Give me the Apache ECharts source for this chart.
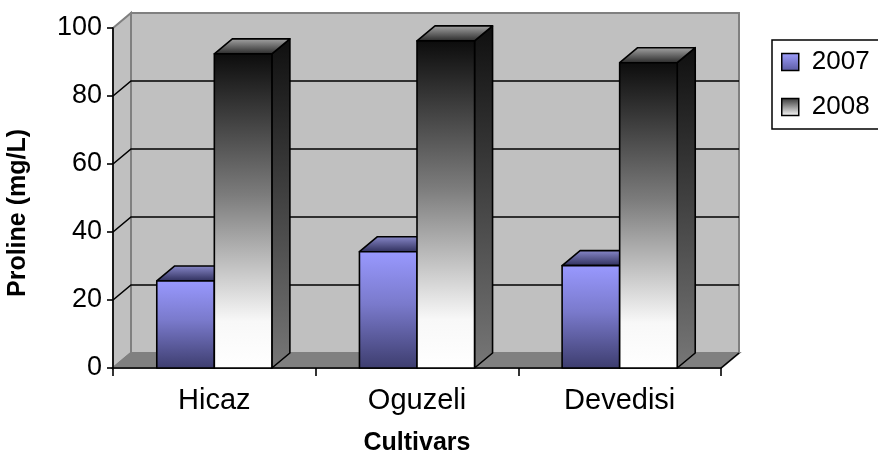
<!DOCTYPE html>
<html>
<head>
<meta charset="utf-8">
<script src="https://cdn.jsdelivr.net/npm/echarts@6/dist/echarts.min.js"></script>
<style>
  html, body { margin: 0; padding: 0; background: #fff; }
  #chart { width: 878px; height: 454px; }
</style>
</head>
<body>
<div id="chart"></div>
<script>
// Proline content of three cultivars in two seasons
const cultivars = ['Hicaz', 'Oguzeli', 'Devedisi'];
const proline2007 = [25.6, 34.2, 30.1];
const proline2008 = [92.4, 96.2, 89.8];
const yTicks = [0, 20, 40, 60, 80, 100];

// oblique depth of the 3D box (pixels)
const DX = 18, DY = -15;
const BAR_FRAC = 0.284;

function grad(stops) {
  return { type: 'linear', x: 0, y: 0, x2: 0, y2: 1,
    colorStops: stops.map(s => ({ offset: s[0], color: s[1] })) };
}

const styles = {
  '2007': {
    front: grad([[0, '#9999ff'], [0.45, '#7a7acc'], [1, '#3d3d6e']]),
    top: grad([[0, '#8a8acc'], [1, '#2c2c58']]),
    side: grad([[0, '#4a4a88'], [1, '#242448']]),
    legend: grad([[0, '#a0a0ff'], [1, '#5a5aa0']])
  },
  '2008': {
    front: grad([[0, '#0c0c0c'], [0.45, '#7c7c7c'], [0.85, '#f8f8f8'], [1, '#ffffff']]),
    top: grad([[0, '#a8a8a8'], [1, '#262626']]),
    side: grad([[0, '#0f0f0f'], [1, '#777777']]),
    legend: grad([[0, '#333333'], [1, '#ffffff']])
  }
};

const edge = { stroke: '#000', lineWidth: 1.6, lineJoin: 'round' };

function barRenderer(name, offsetSign) {
  const st = styles[name];
  return function (params, api) {
    const cat = api.value(0);
    const val = api.value(1);
    const top = api.coord([cat, val]);
    const base = api.coord([cat, 0]);
    const bw = api.size([1, 0])[0] * BAR_FRAC;
    const x0 = offsetSign < 0 ? top[0] - bw : top[0];
    const x1 = x0 + bw;
    const yT = top[1], yB = base[1];
    return {
      type: 'group',
      children: [
        { type: 'polygon', shape: { points: [[x1, yT], [x1 + DX, yT + DY], [x1 + DX, yB + DY], [x1, yB]] },
          style: Object.assign({ fill: st.side }, edge) },
        { type: 'polygon', shape: { points: [[x0, yT], [x0 + DX, yT + DY], [x1 + DX, yT + DY], [x1, yT]] },
          style: Object.assign({ fill: st.top }, edge) },
        { type: 'rect', shape: { x: x0, y: yT, width: bw, height: yB - yT },
          style: Object.assign({ fill: st.front }, edge) }
      ]
    };
  };
}

// walls, floor and gridlines of the 3D box
function frameRenderer(params, api) {
  const band = api.size([1, 0])[0];
  const xmin = api.coord([0, 0])[0] - band / 2;
  const xmax = api.coord([cultivars.length - 1, 0])[0] + band / 2;
  const y0 = api.coord([0, yTicks[0]])[1];
  const yTop = api.coord([0, yTicks[yTicks.length - 1]])[1];
  const children = [
    { type: 'rect', shape: { x: xmin + DX, y: yTop + DY, width: xmax - xmin, height: y0 - yTop },
      style: { fill: '#c0c0c0', stroke: '#808080', lineWidth: 2 } },
    { type: 'polygon', shape: { points: [[xmin, yTop], [xmin + DX, yTop + DY], [xmin + DX, y0 + DY], [xmin, y0]] },
      style: { fill: '#c0c0c0', stroke: '#808080', lineWidth: 2 } },
    { type: 'polygon', shape: { points: [[xmin, y0], [xmin + DX, y0 + DY], [xmax + DX, y0 + DY], [xmax, y0]] },
      style: { fill: '#808080', stroke: '#808080', lineWidth: 2 } },
    { type: 'polyline', shape: { points: [[xmax, y0], [xmax + DX, y0 + DY]] },
      style: { stroke: '#000', lineWidth: 1.6 } }
  ];
  yTicks.slice(1, -1).forEach(t => {
    const y = api.coord([0, t])[1];
    children.push({ type: 'polyline',
      shape: { points: [[xmin, y], [xmin + DX, y + DY], [xmax + DX, y + DY]] },
      style: { stroke: '#000', lineWidth: 1.6, fill: null } });
  });
  return { type: 'group', children: children };
}

const chart = echarts.init(document.getElementById('chart'), null, { renderer: 'canvas' });
const font = 'Liberation Sans, Arial, Helvetica, sans-serif';

chart.setOption({
  animation: false,
  backgroundColor: '#fff',
  textStyle: { fontFamily: font },
  grid: { left: 113, right: 157, top: 28, bottom: 86, containLabel: false, outerBoundsMode: 'none' },
  legend: {
    left: 772, top: 40,
    orient: 'vertical',
    padding: [9, 40, 9, 9],
    itemGap: 19,
    itemWidth: 17, itemHeight: 17,
    borderColor: '#000', borderWidth: 1.5,
    textStyle: { fontSize: 26, color: '#000', fontFamily: font, lineHeight: 26, padding: [0, 0, 0, 8] },
    data: [
      { name: '2007', icon: 'rect', itemStyle: { color: styles['2007'].legend, borderColor: '#000', borderWidth: 1.5 } },
      { name: '2008', icon: 'rect', itemStyle: { color: styles['2008'].legend, borderColor: '#000', borderWidth: 1.5 } }
    ]
  },
  xAxis: {
    type: 'category',
    data: cultivars,
    name: 'Cultivars',
    nameLocation: 'middle',
    nameGap: 63,
    nameTextStyle: { fontSize: 25, fontWeight: 'bold', color: '#000', fontFamily: font },
    axisLine: { lineStyle: { color: '#000', width: 1.6 } },
    axisTick: { show: true, length: 8, alignWithLabel: false, lineStyle: { color: '#000', width: 1.6 } },
    axisLabel: { fontSize: 29, color: '#000', margin: 18, fontFamily: font },
    splitLine: { show: false }
  },
  yAxis: {
    type: 'value',
    min: 0, max: 100, interval: 20,
    name: 'Proline (mg/L)',
    nameLocation: 'middle',
    nameGap: 82,
    nameRotate: 90,
    nameTextStyle: { fontSize: 25, fontWeight: 'bold', color: '#000', fontFamily: font, padding: [0, 30, 0, 0] },
    axisLine: { show: true, lineStyle: { color: '#000', width: 1.6 } },
    axisTick: { show: true, length: 6, lineStyle: { color: '#000', width: 1.6 } },
    axisLabel: { fontSize: 27, color: '#000', margin: 11, fontFamily: font },
    splitLine: { show: false }
  },
  series: [
    { type: 'custom', name: 'frame', z: -1, silent: true, renderItem: frameRenderer,
      data: [[0, 0]], encode: { x: 0, y: 1 } },
    { type: 'custom', name: '2007', z: 2, renderItem: barRenderer('2007', -1),
      itemStyle: { color: '#9999ff' },
      data: proline2007.map((v, i) => [i, v]), encode: { x: 0, y: 1 } },
    { type: 'custom', name: '2008', z: 3, renderItem: barRenderer('2008', 1),
      itemStyle: { color: '#888888' },
      data: proline2008.map((v, i) => [i, v]), encode: { x: 0, y: 1 } }
  ]
});
</script>
</body>
</html>
